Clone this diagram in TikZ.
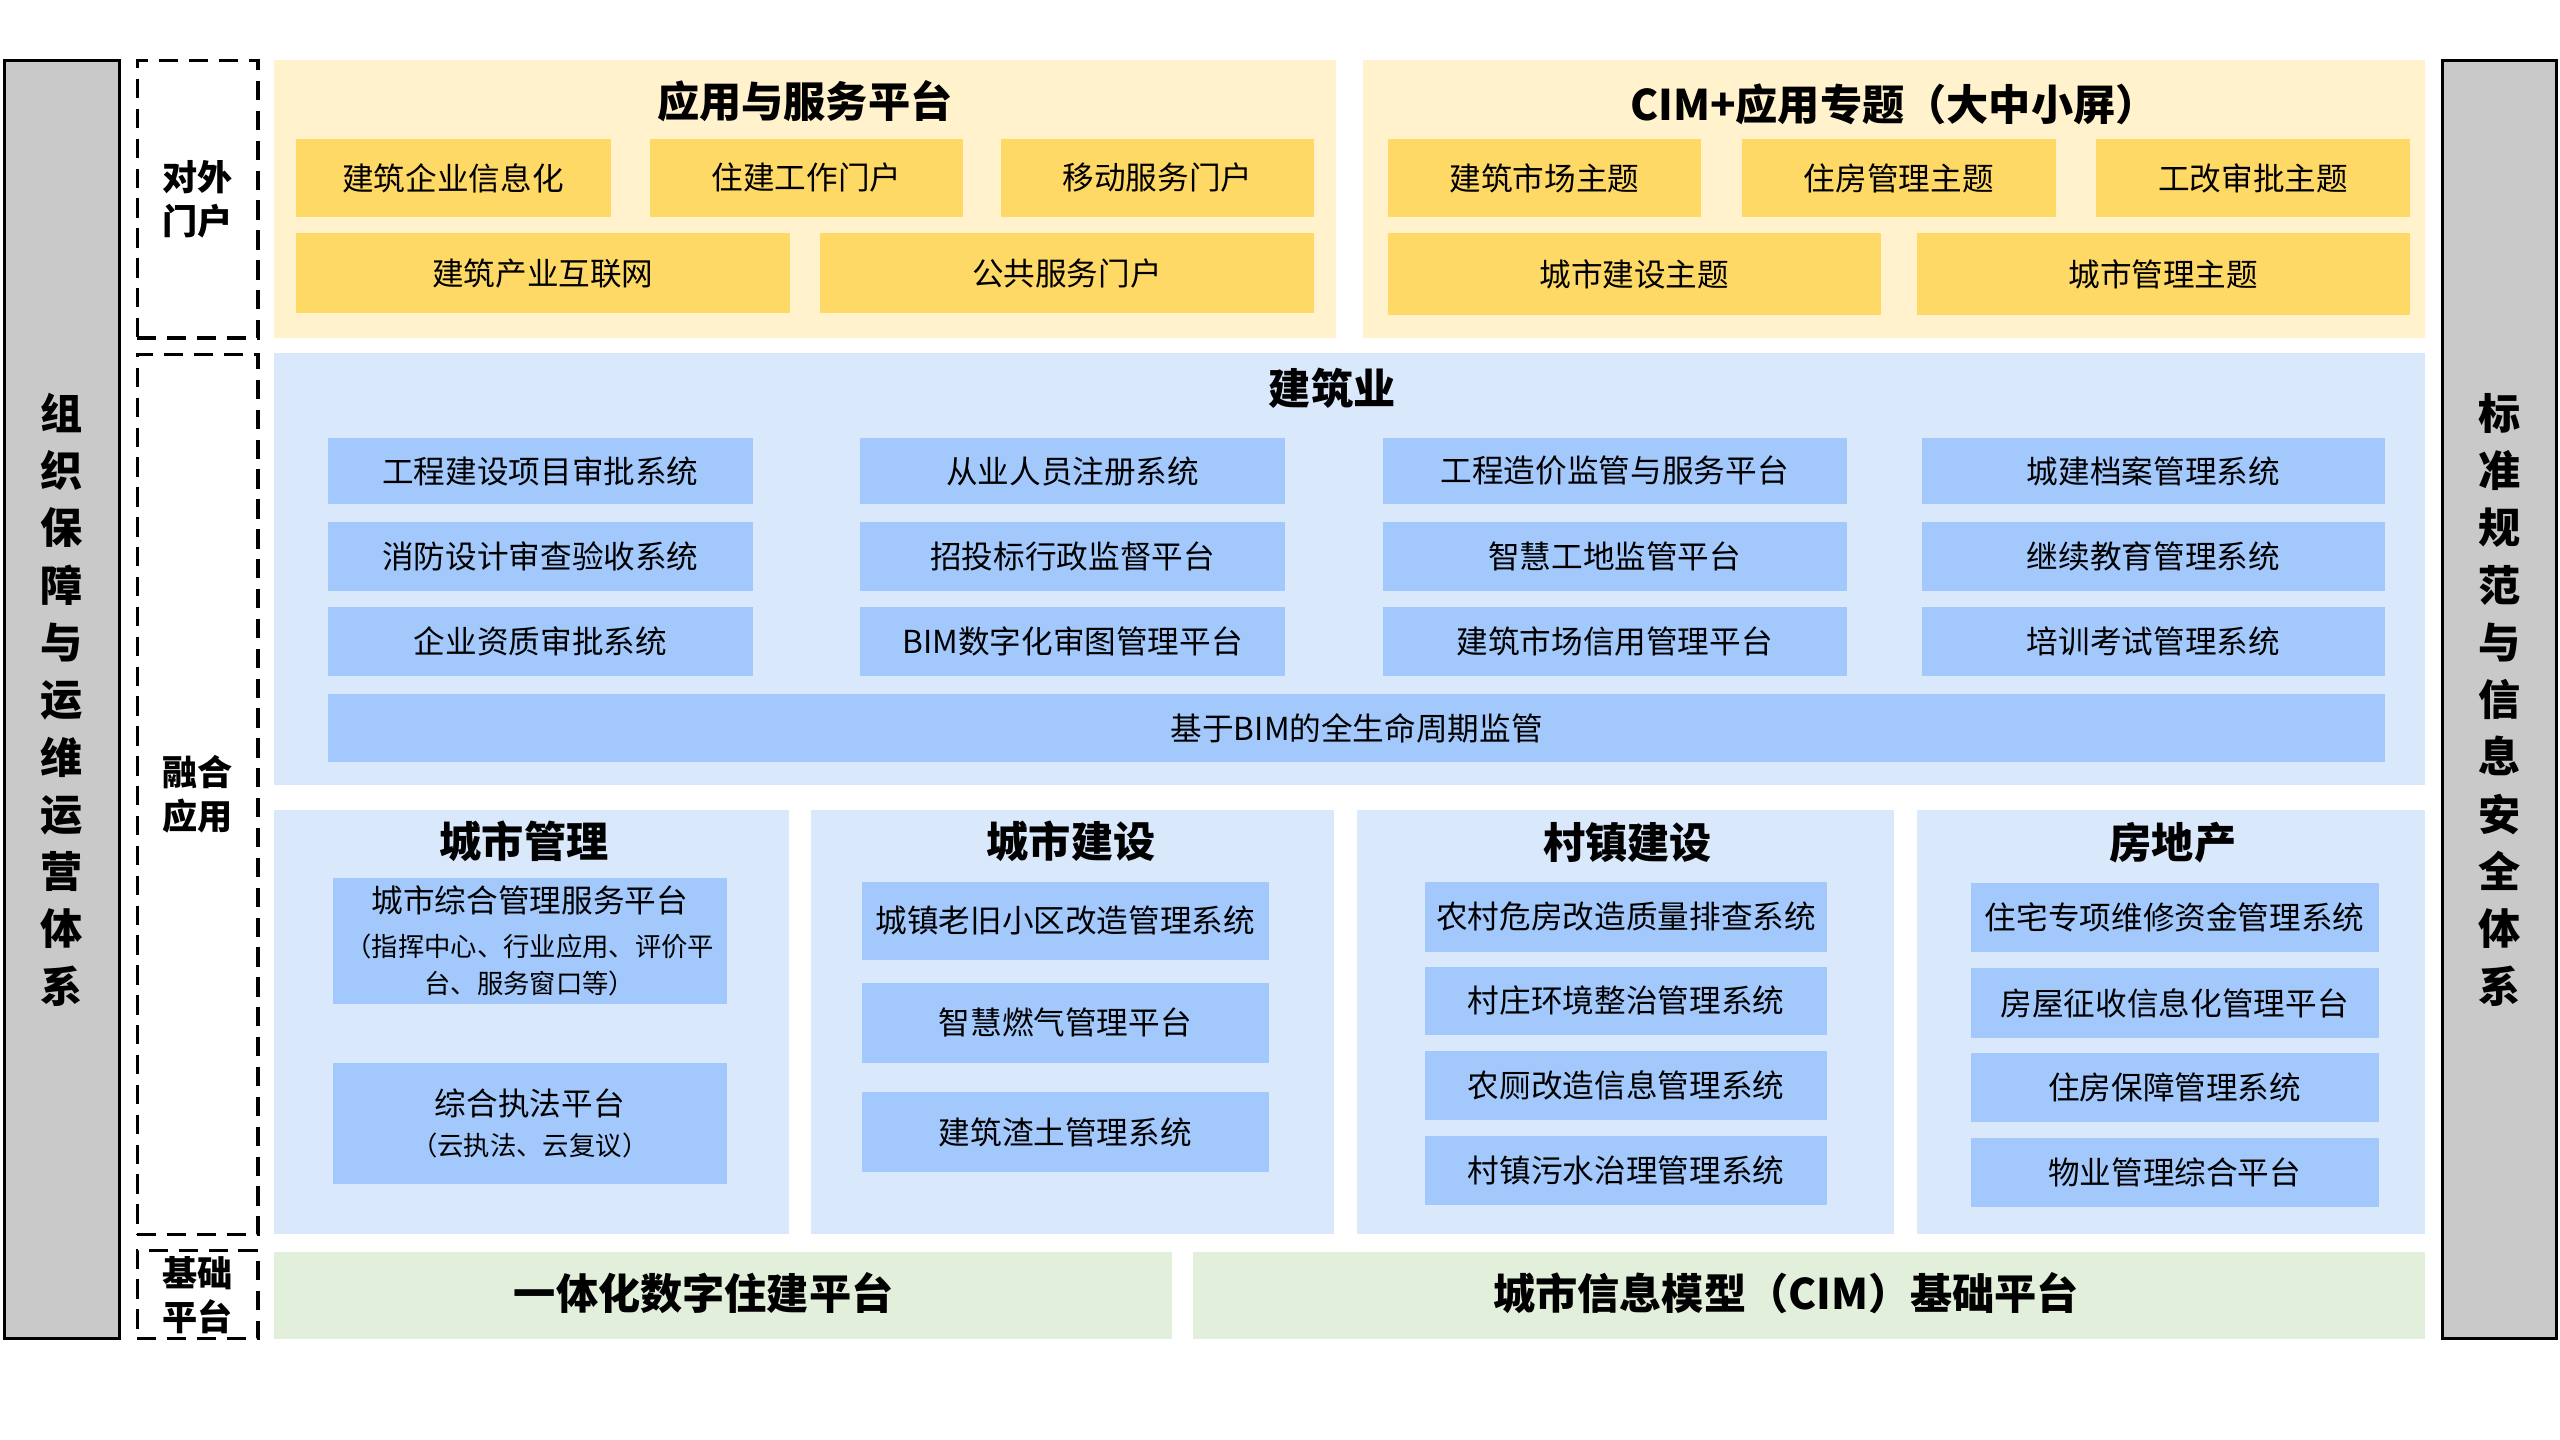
\documentclass[tikz,border=0pt]{standalone}
\usepackage{fontspec}
\setmainfont{Noto Sans CJK SC}
\usepackage{xcolor}
\usepackage{tikz}
\usetikzlibrary{positioning}
\definecolor{sidegray}{HTML}{C9C9C9}
\definecolor{goldlight}{HTML}{FFF2CC}
\definecolor{gold}{HTML}{FFD966}
\definecolor{bluelight}{HTML}{DAE8FC}
\definecolor{blueitem}{HTML}{A2C8FC}
\definecolor{greenlight}{HTML}{E2EFDA}
\tikzset{
    base/.style = {inner sep=0pt, outer sep=0pt, align=center},
    sidebar/.style = {base, draw, line width=0.9pt, fill=sidegray, font=\bfseries\fontsize{12}{16.3}\selectfont},
    tag/.style = {base, draw, line width=0.9pt, dash pattern=on 5.5pt off 3pt, font=\bfseries\fontsize{10}{12.5}\selectfont},
    panelY/.style = {base, fill=goldlight},
    panelB/.style = {base, fill=bluelight},
    panelG/.style = {base, fill=greenlight},
    itemY/.style = {base, fill=gold, font=\fontsize{9}{10.5}\selectfont},
    itemB/.style = {base, fill=blueitem, font=\fontsize{9}{10.5}\selectfont},
    titre/.style = {base, font=\bfseries\fontsize{12}{14}\selectfont}
}
% name, style, x1, y1, x2, y2, text
\newcommand{\blk}[7]{\node[#2, minimum width={(#5-#3)*0.0163265cm}, minimum height={(#6-#4)*0.0163265cm}] (#1) at ({(#3+#5)/2},{(#4+#6)/2}) {#7};}

\begin{document}
\begin{tikzpicture}[x=0.0163265cm, y=-0.0163265cm]
    \useasboundingbox (0,0) rectangle (1568,882);
    % side bars
    \blk{gauche}{sidebar}{3}{37}{73}{820}{组\\织\\保\\障\\与\\运\\维\\运\\营\\体\\系}
    \blk{droite}{sidebar}{1496}{37}{1566}{820}{标\\准\\规\\范\\与\\信\\息\\安\\全\\体\\系}
    % dashed tags
    \blk{portail}{tag}{84}{37}{158}{207}{对外\\门户}
    \blk{fusion}{tag}{84}{217}{158}{756}{融合\\应用}
    \blk{socle}{tag}{84}{766}{158}{820}{基础\\平台}
    % top panels
    \blk{app}{panelY}{168}{37}{818}{207}{}
    \node[titre] (app-t) at (493,62) {应用与服务平台};
    \foreach \xa/\ya/\xb/\yb/\t [count=\i] in {181/85/374/133/建筑企业信息化, 398/85/590/133/住建工作门户,
            613/85/805/133/移动服务门户, 181/143/484/192/建筑产业互联网, 502/143/805/192/公共服务门户} {
            \blk{a\i}{itemY}{\xa}{\ya}{\xb}{\yb}{\t}
        }
    \blk{cim}{panelY}{835}{37}{1485}{207}{}
    \node[titre] (cim-t) at (1160,64) {CIM+应用专题（大中小屏）};
    \foreach \xa/\ya/\xb/\yb/\t [count=\i] in {850/85/1042/133/建筑市场主题, 1067/85/1259/133/住房管理主题,
            1284/85/1476/133/工改审批主题, 850/143/1152/193/城市建设主题, 1174/143/1476/193/城市管理主题} {
            \blk{c\i}{itemY}{\xa}{\ya}{\xb}{\yb}{\t}
        }
    % construction
    \blk{jzy}{panelB}{168}{216}{1485}{481}{}
    \node[titre] (jzy-t) at (816,238) {建筑业};
    \foreach \xa/\xb/\ta/\tb/\tc [count=\c] in {
            201/461/工程建设项目审批系统/消防设计审查验收系统/企业资质审批系统,
            527/787/从业人员注册系统/招投标行政监督平台/BIM数字化审图管理平台,
            847/1131/工程造价监管与服务平台/智慧工地监管平台/建筑市场信用管理平台,
            1177/1461/城建档案管理系统/继续教育管理系统/培训考试管理系统} {
            \foreach \ya/\yb/\t [count=\r] in {268/309/\ta, 320/362/\tb, 372/414/\tc} {
                    \blk{j\c\r}{itemB}{\xa}{\ya}{\xb}{\yb}{\t}
                }
        }
    \blk{bim}{itemB}{201}{425}{1461}{467}{基于BIM的全生命周期监管}
    % lower panels
    \blk{csgl}{panelB}{168}{496}{483}{756}{}
    \node[titre] (csgl-t) at (321,515) {城市管理};
    \blk{m1}{itemB}{204}{538}{445}{615}{城市综合管理服务平台\\[2pt]{\fontsize{7.5}{9}\selectfont （指挥中心、行业应用、评价平}\\{\fontsize{7.5}{9}\selectfont 台、服务窗口等）}}
    \blk{m2}{itemB}{204}{651}{445}{725}{综合执法平台\\[1pt]{\fontsize{7.5}{9}\selectfont （云执法、云复议）}}
    \blk{csjs}{panelB}{497}{496}{817}{756}{}
    \node[titre] (csjs-t) at (656,515) {城市建设};
    \foreach \ya/\yb/\t [count=\i] in {540/588/城镇老旧小区改造管理系统, 602/651/智慧燃气管理平台, 669/718/建筑渣土管理系统} {
            \blk{s\i}{itemB}{528}{\ya}{777}{\yb}{\t}
        }
    \blk{czjs}{panelB}{831}{496}{1160}{756}{}
    \node[titre] (czjs-t) at (997,516) {村镇建设};
    \foreach \ya/\yb/\t [count=\i] in {540/583/农村危房改造质量排查系统, 592/634/村庄环境整治管理系统,
            644/686/农厕改造信息管理系统, 696/738/村镇污水治理管理系统} {
            \blk{v\i}{itemB}{873}{\ya}{1119}{\yb}{\t}
        }
    \blk{fdc}{panelB}{1174}{496}{1485}{756}{}
    \node[titre] (fdc-t) at (1331,516) {房地产};
    \foreach \ya/\yb/\t [count=\i] in {541/583/住宅专项维修资金管理系统, 593/636/房屋征收信息化管理平台,
            645/687/住房保障管理系统, 697/739/物业管理综合平台} {
            \blk{h\i}{itemB}{1207}{\ya}{1457}{\yb}{\t}
        }
    % base platforms
    \blk{g1}{panelG}{168}{767}{718}{820}{}
    \node[titre] (g1-t) at (431,792) {一体化数字住建平台};
    \blk{g2}{panelG}{731}{767}{1485}{820}{}
    \node[titre] (g2-t) at (1094,792) {城市信息模型（CIM）基础平台};
\end{tikzpicture}
\end{document}
